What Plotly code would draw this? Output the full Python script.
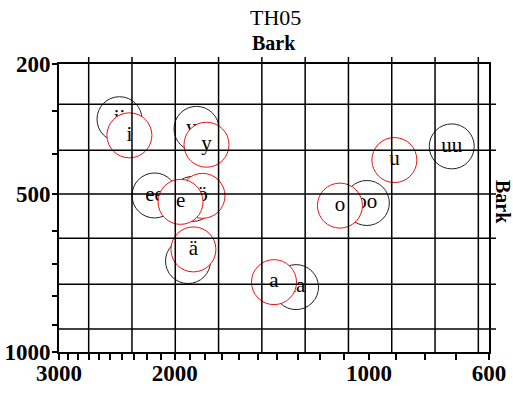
import plotly.graph_objects as go

# ---- data (Hz) ----
long_labels = ["ii", "yy", "ee", "öö", "ää", "aa", "oo", "uu"]
long_f2 = [2422, 1856, 2145, 1879, 1911, 1310, 1008, 712]
long_f1 = [318, 340, 504, 513, 690, 772, 524, 381]

short_labels = ["i", "y", "ö", "e", "ä", "a", "o", "u"]
short_f2 = [2340, 1793, 1818, 1961, 1876, 1417, 1116, 905]
short_f1 = [355, 377, 505, 521, 655, 756, 531, 414]

x_ticks_hz = list(range(600, 3001, 100))
x_labels_hz = [3000, 2000, 1000, 600]
y_ticks_hz = list(range(200, 1001, 100))
y_labels_hz = [200, 500, 1000]

x_grid_bark = [6, 7, 8, 9, 10, 11, 12, 13, 14, 15]
y_grid_bark = [2.87, 3.92, 4.92, 5.93, 6.98, 8.0]


def bark(f):
    return 26.81 * f / (1960.0 + f) - 0.53


SERIF = "Liberation Serif, Times New Roman, serif"

fig = go.Figure()

for lab, f2, f1 in zip(long_labels, long_f2, long_f1):
    fig.add_trace(go.Scatter(
        x=[bark(f2)], y=[bark(f1)], mode="markers+text", text=[lab],
        textposition="middle center",
        textfont=dict(family=SERIF, size=21, color="black"),
        marker=dict(symbol="circle", size=45, color="white",
                    line=dict(color="#222222", width=1)),
        showlegend=False, hoverinfo="skip"))

for lab, f2, f1 in zip(short_labels, short_f2, short_f1):
    fig.add_trace(go.Scatter(
        x=[bark(f2)], y=[bark(f1)], mode="markers+text", text=[lab],
        textposition="middle center",
        textfont=dict(family=SERIF, size=21, color="black"),
        marker=dict(symbol="circle", size=45, color="white",
                    line=dict(color="#ee1111", width=1)),
        showlegend=False, hoverinfo="skip"))

shapes = []
for b in x_grid_bark:
    shapes.append(dict(type="line", xref="x", yref="paper", x0=b, x1=b,
                       y0=0, y1=1 + 7 / 288, layer="above",
                       line=dict(color="black", width=1.5)))
for b in y_grid_bark:
    shapes.append(dict(type="line", xref="paper", yref="y", x0=0,
                       x1=1 + 7 / 430, y0=b, y1=b, layer="above",
                       line=dict(color="black", width=1.5)))

tickfont = dict(family=SERIF, size=23, color="black", weight="bold")

fig.update_layout(
    width=513, height=394,
    margin=dict(l=59, r=24, t=64, b=42),
    paper_bgcolor="white", plot_bgcolor="white",
    shapes=shapes,
    xaxis=dict(
        range=[bark(3000), bark(600)],
        tickmode="array",
        tickvals=[bark(f) for f in x_ticks_hz],
        ticktext=[str(f) if f in x_labels_hz else "" for f in x_ticks_hz],
        ticks="outside", ticklen=6, tickwidth=1.5, tickcolor="black",
        ticklabelstandoff=-7,
        showgrid=False, zeroline=False, automargin=False,
        showline=True, linewidth=2, linecolor="black", mirror=True,
        tickfont=tickfont,
    ),
    yaxis=dict(
        range=[bark(1000), bark(200)],
        tickmode="array",
        tickvals=[bark(f) for f in y_ticks_hz],
        ticktext=[str(f) if f in y_labels_hz else "" for f in y_ticks_hz],
        ticks="outside", ticklen=5, tickwidth=1.5, tickcolor="black",
        ticklabelstandoff=-3,
        showgrid=False, zeroline=False, automargin=False,
        showline=True, linewidth=2, linecolor="black", mirror=True,
        tickfont=tickfont,
    ),
    annotations=[
        dict(text="TH05", xref="paper", yref="paper",
             x=(275 - 59) / 430, y=(352 - 17) / 288,
             xanchor="center", yanchor="middle", showarrow=False,
             font=dict(family=SERIF, size=22, color="black")),
        dict(text="<b>Bark</b>", xref="paper", yref="paper",
             x=(274 - 59) / 430, y=(352 - 43) / 288,
             xanchor="center", yanchor="middle", showarrow=False,
             font=dict(family=SERIF, size=20, color="black")),
        dict(text="<b>Bark</b>", xref="paper", yref="paper",
             x=(503 - 59) / 430, y=(352 - 202) / 288, textangle=90,
             xanchor="center", yanchor="middle", showarrow=False,
             font=dict(family=SERIF, size=20, color="black")),
    ],
)

fig.write_html("out.html")
